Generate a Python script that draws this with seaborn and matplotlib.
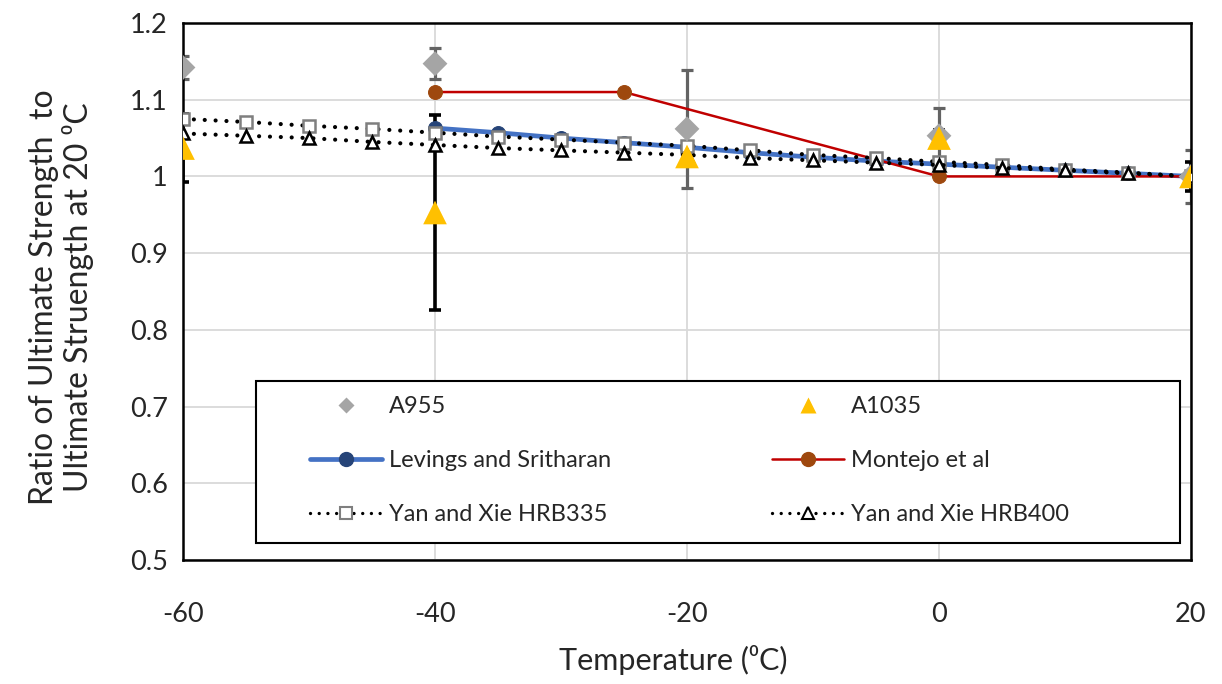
import matplotlib
matplotlib.use("Agg")
import matplotlib.pyplot as plt
import seaborn as sns
from matplotlib.lines import Line2D
from matplotlib.patches import Rectangle

# ---- data -------------------------------------------------------------
temps_a955 = [-60, -40, -20, 0, 20]
ratio_a955 = [1.142, 1.147, 1.062, 1.053, 1.000]
err_a955 = [0.015, 0.020, 0.077, 0.036, 0.035]

temps_a1035 = [-60, -40, -20, 0, 20]
ratio_a1035 = [1.037, 0.953, 1.026, 1.050, 1.000]
err_a1035 = [0.044, 0.127, 0.010, 0.010, 0.019]

temps_levings = [-40, -35, -30, -25, -20, -15, -10, -5, 0, 5, 10, 15, 20]
ratio_levings = [1.063, 1.057, 1.050, 1.044, 1.038, 1.031, 1.025, 1.020,
                 1.016, 1.012, 1.008, 1.004, 1.000]

temps_montejo = [-40, -25, 0, 20]
ratio_montejo = [1.110, 1.110, 1.000, 1.000]

temps_yan = [-60, -55, -50, -45, -40, -35, -30, -25, -20, -15, -10, -5,
             0, 5, 10, 15, 20]
ratio_hrb335 = [1.075, 1.071, 1.066, 1.062, 1.057, 1.052, 1.048, 1.044,
                1.040, 1.034, 1.028, 1.024, 1.019, 1.015, 1.009, 1.005, 1.000]
ratio_hrb400 = [1.056, 1.053, 1.050, 1.045, 1.041, 1.037, 1.034, 1.031,
                1.028, 1.024, 1.021, 1.018, 1.015, 1.011, 1.008, 1.004, 1.000]

x_ticks = [-60, -40, -20, 0, 20]
y_ticks = [0.5, 0.6, 0.7, 0.8, 0.9, 1.0, 1.1, 1.2]
y_ticklabels = ["0.5", "0.6", "0.7", "0.8", "0.9", "1", "1.1", "1.2"]

# ---- style ------------------------------------------------------------
sns.set_theme(style="white")
plt.rcParams["font.family"] = ["Lato", "DejaVu Sans"]
plt.rcParams["text.color"] = "#262626"

C_A955 = "#a5a5a5"
C_A955_ERR = "#636363"
C_A1035 = "#ffc000"
C_LEV_LINE = "#4472c4"
C_LEV_MARK = "#264478"
C_MON_LINE = "#c00000"
C_MON_MARK = "#9e480e"
C_SQ = "#7f7f7f"

W, H = 1222, 684
fig = plt.figure(figsize=(W / 100, H / 100), dpi=100)
ax = fig.add_axes([183 / W, 1 - 560 / H, (1191 - 183) / W, (560 - 23) / H])

dotted = (0, (0.01, 2.6))

# model / literature curves
sns.lineplot(x=temps_yan, y=ratio_hrb335, ax=ax, color="black", lw=3.0,
             linestyle=dotted, dash_capstyle="round", marker="s",
             markersize=8.5, markerfacecolor="white", markeredgecolor=C_SQ,
             markeredgewidth=1.8, zorder=4)
sns.lineplot(x=temps_yan, y=ratio_hrb400, ax=ax, color="black", lw=3.0,
             linestyle=dotted, dash_capstyle="round", marker="^",
             markersize=8.5, markerfacecolor="white", markeredgecolor="black",
             markeredgewidth=1.8, zorder=4)
sns.lineplot(x=temps_levings, y=ratio_levings, ax=ax, color=C_LEV_LINE,
             lw=3.4, marker="o", markersize=10, markerfacecolor=C_LEV_MARK,
             markeredgecolor=C_LEV_MARK, zorder=3)
sns.lineplot(x=temps_montejo, y=ratio_montejo, ax=ax, color=C_MON_LINE,
             lw=1.8, marker="o", markersize=10, markerfacecolor=C_MON_MARK,
             markeredgecolor=C_MON_MARK, zorder=3.5)

# test data with error bars
ax.errorbar(temps_a955, ratio_a955, yerr=err_a955, fmt="none",
            ecolor=C_A955_ERR, elinewidth=2.3, capsize=4.5, capthick=2.3,
            zorder=2.5)
sns.scatterplot(x=temps_a955, y=ratio_a955, ax=ax, marker="D", s=160,
                color=C_A955, edgecolor="none", zorder=5)
ax.errorbar(temps_a1035, ratio_a1035, yerr=err_a1035, fmt="none",
            ecolor="black", elinewidth=2.6, capsize=4.5, capthick=2.6,
            zorder=2.6)
sns.scatterplot(x=temps_a1035, y=ratio_a1035, ax=ax, marker="^", s=290,
                color=C_A1035, edgecolor="none", zorder=5.5)

# ---- axes -------------------------------------------------------------
ax.set_xlim(-60, 20)
ax.set_ylim(0.5, 1.2)
ax.set_xticks(x_ticks)
ax.set_xticklabels([str(t) for t in x_ticks])
ax.set_yticks(y_ticks)
ax.set_yticklabels(y_ticklabels)
ax.grid(True, color="#d9d9d9", lw=1.3)
ax.set_axisbelow(True)
for sp in ax.spines.values():
    sp.set_color("black")
    sp.set_linewidth(1.8)
ax.tick_params(axis="both", length=0, labelsize=19.5, colors="#262626")
ax.tick_params(axis="x", pad=30)
ax.tick_params(axis="y", pad=11)

ax.set_xlabel("Temperature (\u2070C)", fontsize=22)
ax.xaxis.set_label_coords((673 - 183) / 1008, -(645 - 560) / 537)
ax.set_ylabel("Ratio of Ultimate Strength  to\nUltimate Struength at 20 \u2070C",
              fontsize=23, linespacing=1.1)
ax.yaxis.set_label_coords(-(183 - 94) / 1008, 0.49)

# ---- legend -----------------------------------------------------------
frame = Rectangle((256 / W, 1 - 543 / H), (1180 - 256) / W, (543 - 381) / H,
                  transform=fig.transFigure, facecolor="white",
                  edgecolor="black", lw=1.5, zorder=6)
ax.add_patch(frame)

handles = [
    Line2D([], [], ls="none", marker="D", ms=8, color=C_A955, mec="none"),
    Line2D([], [], color=C_LEV_LINE, lw=3.4, marker="o", ms=10,
           mfc=C_LEV_MARK, mec=C_LEV_MARK),
    Line2D([], [], color="black", lw=2.4, linestyle=dotted,
           dash_capstyle="round", marker="s", ms=8, mfc="white", mec=C_SQ,
           mew=1.5),
    Line2D([], [], ls="none", marker="^", ms=11, color=C_A1035, mec="none"),
    Line2D([], [], color=C_MON_LINE, lw=1.8, marker="o", ms=10,
           mfc=C_MON_MARK, mec=C_MON_MARK),
    Line2D([], [], color="black", lw=2.4, linestyle=dotted,
           dash_capstyle="round", marker="^", ms=8, mfc="white", mec="black",
           mew=1.5),
]
labels = ["A955", "Levings and Sritharan", "Yan and Xie HRB335",
          "A1035", "Montejo et al", "Yan and Xie HRB400"]
leg = ax.legend(handles, labels, ncol=2, frameon=False, fontsize=17,
                loc="upper left", bbox_to_anchor=(310 / W, 1 - 396 / H),
                bbox_transform=fig.transFigure, borderpad=0, borderaxespad=0,
                handlelength=3.05, handletextpad=0.3, labelspacing=1.4,
                columnspacing=6.8)
leg.set_zorder(7)

fig.savefig("out.png", dpi=100)
